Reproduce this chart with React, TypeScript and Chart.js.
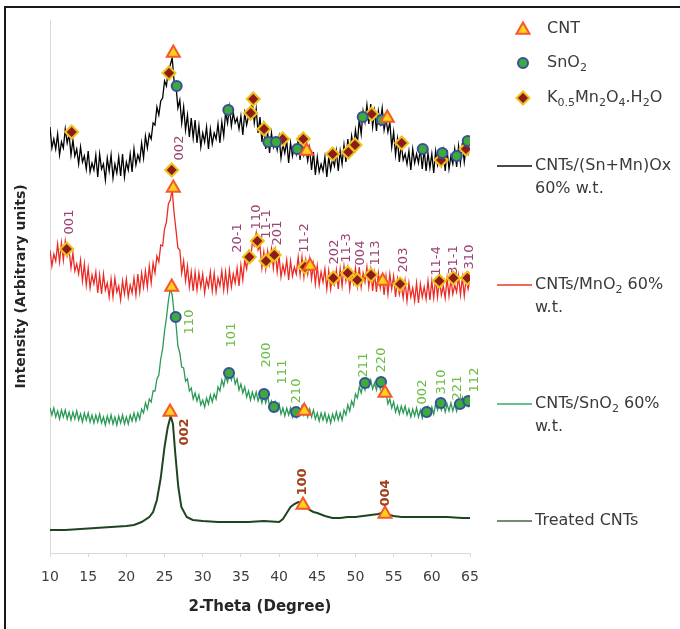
import React, { useEffect, useRef } from 'react';
import { Chart, registerables } from 'chart.js';

Chart.register(...registerables);

// 2-theta grid (degrees) for the three noisy patterns
const theta = [10,10.25,10.5,10.75,11,11.25,11.5,11.75,12,12.25,12.5,12.75,13,13.25,13.5,13.75,14,14.25,14.5,14.75,15,15.25,15.5,15.75,16,16.25,16.5,16.75,17,17.25,17.5,17.75,18,18.25,18.5,18.75,19,19.25,19.5,19.75,20,20.25,20.5,20.75,21,21.25,21.5,21.75,22,22.25,22.5,22.75,23,23.25,23.5,23.75,24,24.25,24.5,24.75,25,25.25,25.5,25.75,26,26.25,26.5,26.75,27,27.25,27.5,27.75,28,28.25,28.5,28.75,29,29.25,29.5,29.75,30,30.25,30.5,30.75,31,31.25,31.5,31.75,32,32.25,32.5,32.75,33,33.25,33.5,33.75,34,34.25,34.5,34.75,35,35.25,35.5,35.75,36,36.25,36.5,36.75,37,37.25,37.5,37.75,38,38.25,38.5,38.75,39,39.25,39.5,39.75,40,40.25,40.5,40.75,41,41.25,41.5,41.75,42,42.25,42.5,42.75,43,43.25,43.5,43.75,44,44.25,44.5,44.75,45,45.25,45.5,45.75,46,46.25,46.5,46.75,47,47.25,47.5,47.75,48,48.25,48.5,48.75,49,49.25,49.5,49.75,50,50.25,50.5,50.75,51,51.25,51.5,51.75,52,52.25,52.5,52.75,53,53.25,53.5,53.75,54,54.25,54.5,54.75,55,55.25,55.5,55.75,56,56.25,56.5,56.75,57,57.25,57.5,57.75,58,58.25,58.5,58.75,59,59.25,59.5,59.75,60,60.25,60.5,60.75,61,61.25,61.5,61.75,62,62.25,62.5,62.75,63,63.25,63.5,63.75,64,64.25,64.5,64.75,65];

// CNTs/(Sn+Mn)Ox 60% w.t. (offset intensity, arbitrary units)
const snMnOx = [
  426,405,414,404, 419,398,411,405, 424,410,419,398, 413,397,404,389, 406,391,397,384,
  402,381,390,383, 398,376,399,384, 389,373,395,382, 398,375,389,380, 396,377,399,376,
  391,383,399,381, 404,388,398,392, 410,395,417,405, 419,414,430,428, 446,438,452,455,
  472,467,484,488, 495,472,467,445, 453,430,446,423, 438,416,435,415, 433,410,427,406,
  420,411,426,404, 424,409,420,414, 429,410,431,417, 441,430,446,427, 440,430,435,424,
  437,418,440,428, 437,434,452,430, 444,420,436,411, 427,404,421,400, 420,406,414,403,
  416,395,409,400, 412,390,410,397, 407,399,413,393, 416,398,404,392, 405,383,401,378,
  396,381,389,382, 396,376,396,383, 394,387,402,382, 402,389,408,391, 414,396,417,405,
  423,409,434,419, 442,431,448,429, 449,426,442,422, 442,430,445,423, 434,421,431,406,
  421,398,414,391, 409,393,399,389, 402,383,404,390, 399,390,404,384, 404,382,400,385,
  399,380,402,388, 397,388,402,382, 403,384,397,389, 404,386,407,390, 410,391,406,399,
  405];

// CNTs/MnO2 60% w.t.
const mnO2 = [
  303,287,299,292, 309,291,310,293, 312,297,303,285, 300,282,289,279, 293,272,289,268,
  285,265,278,269, 281,260,278,259, 279,263,270,256, 274,256,275,261, 267,253,272,259,
  274,256,268,260, 275,258,279,261, 280,266,282,266, 287,270,290,280, 297,291,308,307,
  324,331,349,353, 363,340,323,305, 303,280,292,272, 287,266,281,262, 281,263,280,266,
  279,260,274,266, 281,262,280,261, 275,267,282,263, 281,263,283,266, 279,270,285,267,
  288,273,293,284, 301,294,310,307, 320,303,307,285, 301,284,302,289, 304,285,302,281,
  297,276,288,279, 293,273,292,277, 286,279,296,278, 296,276,293,279, 294,274,289,269,
  287,268,281,271, 284,264,282,264, 278,269,283,264, 284,267,287,272, 285,264,281,270,
  285,267,286,266, 280,271,286,266, 283,262,280,261, 280,265,277,258, 277,259,279,264,
  277,256,274,259, 268,255,272,252, 270,256,265,252, 270,250,269,256, 266,254,272,253,
  272,255,275,256, 274,258,267,255, 275,257,274,259, 268,261,277,258, 276,257,275,264,
  274];

// CNTs/SnO2 60% w.t.
const snO2 = [
  145,138,145,136, 142,134,143,136, 143,134,141,133, 141,134,142,133, 139,131,140,133,
  140,131,138,130, 138,131,139,130, 136,128,137,130, 138,129,136,128, 137,130,138,129,
  136,129,138,132, 140,132,140,134, 144,140,150,144, 154,151,162,162, 174,178,194,204,
  222,235,252,264, 258,240,229,207, 200,186,185,172, 174,162,165,154, 160,152,158,148,
  153,146,155,149, 158,151,159,154, 166,162,173,167, 177,171,181,173, 180,169,174,163,
  169,160,166,156, 162,153,161,154, 161,152,158,150, 158,150,157,147, 152,143,151,143,
  149,139,145,137, 145,138,145,136, 143,136,145,139, 147,138,144,136, 144,136,143,134,
  140,132,140,133, 140,131,138,130, 139,133,141,133, 140,133,143,138, 148,142,152,147,
  159,155,166,160, 169,163,173,166, 173,164,170,163, 172,164,170,157, 160,149,154,145,
  151,141,147,139, 147,140,147,138, 144,136,144,137, 145,136,143,135, 144,138,146,138,
  146,139,149,143, 152,143,149,141, 149,142,150,142, 149,142,152,146, 155,147,154,147,
  156];

// Treated CNTs
const treatedTheta = [10,12,14,16,18,20,21,22,23,23.5,24,24.5,25,25.4,25.8,26.1,26.4,26.8,27.2,27.9,28.7,30,32,34,36,38,40,40.5,41,41.5,42,42.5,43,43.5,44,44.5,45,46,47,48,49,50,51,52,53,53.8,54.5,55,56,58,60,62,64,65];
const treatedI = [23,23,24,25,26,27,28,31,36,41,53,75,106,125,137,129,100,66,46,36,33,32,31,31,31,32,31,34,40,46,49,51,50,46,43,41,40,37,35,35,36,36,37,38,39,41,38,37,36,36,36,36,35,35];

// Phase markers
const cntTheta = [26.15,43.62,54.17,26.15,44.05,53.57,25.94,43.3,53.87,25.72,43.13,53.87];
const cntI = [500,402,435,365,287,272,266,142,160,141,48,39];
const snTheta = [26.59,33.35,38.59,39.6,42.39,50.95,53.44,58.81,61.38,63.26,64.7,26.46,33.44,38.03,39.33,42.22,51.25,53.35,59.33,61.17,63.69,64.78];
const snI = [467,443,411,411,404,436,433,404,400,397,412,236,180,159,146,141,170,171,141,150,149,152];
const kTheta = [12.84,25.58,36.28,36.62,38.03,40.47,43.17,47.02,49.07,49.94,52.13,56.06,61.21,64.48,12.19,25.94,36.1,37.15,38.29,39.37,43.39,47.1,48.99,50.24,52.04,55.84,60.98,62.82,64.65];
const kI = [421,480,440,454,424,414,414,399,401,408,439,410,393,404,304,383,296,312,292,298,286,275,280,273,278,269,272,275,275];

// Miller-index labels
const mnLabels = ['001','002','20-1','110','11-1','201','11-2','202','11-3','004','113','203','11-4','31-1','310'];
const mnLabelTheta = [12.62,27.02,34.62,37.11,38.42,39.86,43.39,47.32,48.89,50.73,52.69,56.36,60.68,62.91,65.0];
const mnLabelI = [331,405,315,336,329,320,315,301,305,300,300,293,292,293,296];
const snLabels = ['110','101','200','111','210','211','220','002','310','221','112'];
const snLabelTheta = [28.33,33.83,38.42,40.51,42.35,51.12,53.48,58.85,61.34,63.43,65.66];
const snLabelI = [231,218,198,181,162,188,193,161,171,165,173];
const cntLabels = ['002','100','004'];
const cntLabelTheta = [27.68,43.13,54.0];
const cntLabelI = [121,71,60];

const xTicks = [10,15,20,25,30,35,40,45,50,55,60,65];

const FONT = '"DejaVu Sans", Verdana, sans-serif';
const C_CNT_FILL = '#ffd21a', C_CNT_EDGE = '#f4582c';
const C_SN_FILL = '#3dab3a', C_SN_EDGE = '#3a4e9e';
const C_K_FILL = '#8c1c1c', C_K_EDGE = '#efc21b';

type Part = [string, boolean];

function drawRich(ctx: CanvasRenderingContext2D, parts: Part[], x: number, y: number, size: number) {
  let cx = x;
  for (const [t, sub] of parts) {
    ctx.font = `${sub ? Math.round(size * 0.68) : size}px ${FONT}`;
    ctx.fillText(t, cx, sub ? y + size * 0.3 : y);
    cx += ctx.measureText(t).width;
  }
}

function marker(ctx: CanvasRenderingContext2D, kind: string, x: number, y: number) {
  ctx.save();
  ctx.lineWidth = 2;
  ctx.beginPath();
  if (kind === 'tri') {
    const r = 7.5;
    ctx.moveTo(x, y - r);
    ctx.lineTo(x + r * 0.866, y + r / 2);
    ctx.lineTo(x - r * 0.866, y + r / 2);
    ctx.closePath();
    ctx.fillStyle = C_CNT_FILL; ctx.strokeStyle = C_CNT_EDGE;
  } else if (kind === 'circ') {
    ctx.arc(x, y, 5, 0, Math.PI * 2);
    ctx.fillStyle = C_SN_FILL; ctx.strokeStyle = C_SN_EDGE;
  } else {
    const r = 6.5;
    ctx.moveTo(x, y - r); ctx.lineTo(x + r, y); ctx.lineTo(x, y + r); ctx.lineTo(x - r, y); ctx.closePath();
    ctx.fillStyle = C_K_FILL; ctx.strokeStyle = C_K_EDGE;
  }
  ctx.fill(); ctx.stroke();
  ctx.restore();
}

const overlay = {
  id: 'overlay',
  afterDatasetsDraw(chart: any) {
    const ctx: CanvasRenderingContext2D = chart.ctx;
    const xs = chart.scales.x, ys = chart.scales.y;
    const vText = (txt: string, th: number, it: number, color: string, bold: boolean) => {
      ctx.save();
      ctx.translate(xs.getPixelForValue(th), ys.getPixelForValue(it));
      ctx.rotate(-Math.PI / 2);
      ctx.font = `${bold ? 'bold ' : ''}13px ${FONT}`;
      ctx.fillStyle = color;
      ctx.textAlign = 'center';
      ctx.textBaseline = 'middle';
      ctx.fillText(txt, 0, 0);
      ctx.restore();
    };
    mnLabels.forEach((t, i) => vText(t, mnLabelTheta[i], mnLabelI[i], '#9c4575', false));
    snLabels.forEach((t, i) => vText(t, snLabelTheta[i], snLabelI[i], '#6cbd45', false));
    cntLabels.forEach((t, i) => vText(t, cntLabelTheta[i], cntLabelI[i], '#a3401c', true));
  },
  afterDraw(chart: any) {
    const ctx: CanvasRenderingContext2D = chart.ctx;
    ctx.save();
    ctx.fillStyle = '#3a3a3a';
    ctx.textBaseline = 'middle';
    ctx.textAlign = 'left';
    // marker legend
    marker(ctx, 'tri', 523, 30);
    drawRich(ctx, [['CNT', false]], 547, 29, 16);
    marker(ctx, 'circ', 523, 63);
    drawRich(ctx, [['SnO', false], ['2', true]], 547, 63, 16);
    marker(ctx, 'dia', 523, 98);
    drawRich(ctx, [['K', false], ['0.5', true], ['Mn', false], ['2', true], ['O', false], ['4', true], ['.H', false], ['2', true], ['O', false]], 547, 98, 16);
    // line legend
    const lines: [string, number, Part[], Part[] | null][] = [
      ['#4a4a4a', 166, [['CNTs/(Sn+Mn)Ox', false]], [['60% w.t.', false]]],
      ['#f06a5c', 285, [['CNTs/MnO', false], ['2', true], [' 60%', false]], [['w.t.', false]]],
      ['#66bf8c', 404, [['CNTs/SnO', false], ['2', true], [' 60%', false]], [['w.t.', false]]],
      ['#6f8f6c', 521, [['Treated CNTs', false]], null],
    ];
    for (const [col, y, l1, l2] of lines) {
      ctx.strokeStyle = col;
      ctx.lineWidth = 2;
      ctx.beginPath();
      ctx.moveTo(497, y); ctx.lineTo(532, y);
      ctx.stroke();
      ctx.fillStyle = '#3a3a3a';
      drawRich(ctx, l1, 535, y, 16);
      if (l2) drawRich(ctx, l2, 535, y + 23, 16);
    }
    ctx.restore();
  },
};

const pts = (xs: number[], ys: number[]) => xs.map((x, i) => ({ x, y: ys[i] }));

export default function App() {
  const ref = useRef<HTMLCanvasElement>(null);
  useEffect(() => {
    if (!ref.current) return;
    const chart = new Chart(ref.current, {
      type: 'line',
      data: {
        datasets: [
          { label: 'CNT', data: pts(cntTheta, cntI), showLine: false, pointStyle: 'triangle', pointRadius: 7.5, pointBackgroundColor: C_CNT_FILL, pointBorderColor: C_CNT_EDGE, pointBorderWidth: 2 },
          { label: 'SnO2', data: pts(snTheta, snI), showLine: false, pointStyle: 'circle', pointRadius: 5, pointBackgroundColor: C_SN_FILL, pointBorderColor: C_SN_EDGE, pointBorderWidth: 2 },
          { label: 'K0.5Mn2O4.H2O', data: pts(kTheta, kI), showLine: false, pointStyle: 'rectRot', pointRadius: 6.5, pointBackgroundColor: C_K_FILL, pointBorderColor: C_K_EDGE, pointBorderWidth: 2 },
          { label: 'CNTs/(Sn+Mn)Ox 60% w.t.', data: pts(theta, snMnOx), borderColor: '#000000', borderWidth: 1.3, pointRadius: 0 },
          { label: 'CNTs/MnO2 60% w.t.', data: pts(theta, mnO2), borderColor: '#ec2a24', borderWidth: 1.3, pointRadius: 0 },
          { label: 'CNTs/SnO2 60% w.t.', data: pts(theta, snO2), borderColor: '#2c9a57', borderWidth: 1.3, pointRadius: 0 },
          { label: 'Treated CNTs', data: pts(treatedTheta, treatedI), borderColor: '#1f4520', borderWidth: 2, pointRadius: 0 },
        ] as any,
      },
      options: {
        responsive: false,
        animation: false,
        layout: { padding: { left: 0, top: 20, right: 210, bottom: 0 } },
        plugins: { legend: { display: false }, tooltip: { enabled: false } },
        scales: {
          x: {
            type: 'linear', min: 10, max: 65,
            afterFit: (s: any) => { s.height = 76; },
            afterBuildTicks: (s: any) => { s.ticks = xTicks.map((v) => ({ value: v })); },
            ticks: { font: { family: FONT, size: 14 }, color: '#404040', padding: 12, maxRotation: 0 },
            grid: { drawOnChartArea: false, drawTicks: true, tickLength: 4, color: '#d9d9d9' },
            border: { color: '#d9d9d9', width: 1 },
            title: { display: true, text: '2-Theta (Degree)', font: { family: FONT, size: 15, weight: 'bold' }, color: '#262626', padding: { top: 0, bottom: 13 } },
          },
          y: {
            min: 0, max: 533,
            afterFit: (s: any) => { s.width = 50; },
            ticks: { display: false },
            grid: { display: false },
            border: { display: true, color: '#d9d9d9', width: 1 },
            title: { display: true, text: 'Intensity (Arbitrary units)', font: { family: FONT, size: 14, weight: 'bold' }, color: '#262626', padding: { top: 13, bottom: 0 } },
          },
        },
      } as any,
      plugins: [overlay],
    });
    return () => chart.destroy();
  }, []);
  return (
    <div style={{ position: 'fixed', left: 0, top: 0, width: 680, height: 629, overflow: 'hidden', background: '#fff' }}>
      <canvas ref={ref} width={680} height={629} style={{ position: 'absolute', left: 0, top: 0 }} />
      <div style={{ position: 'absolute', left: 4, top: 6, width: 800, height: 800, borderLeft: '2px solid #1a1a1a', borderTop: '2px solid #1a1a1a' }} />
    </div>
  );
}
